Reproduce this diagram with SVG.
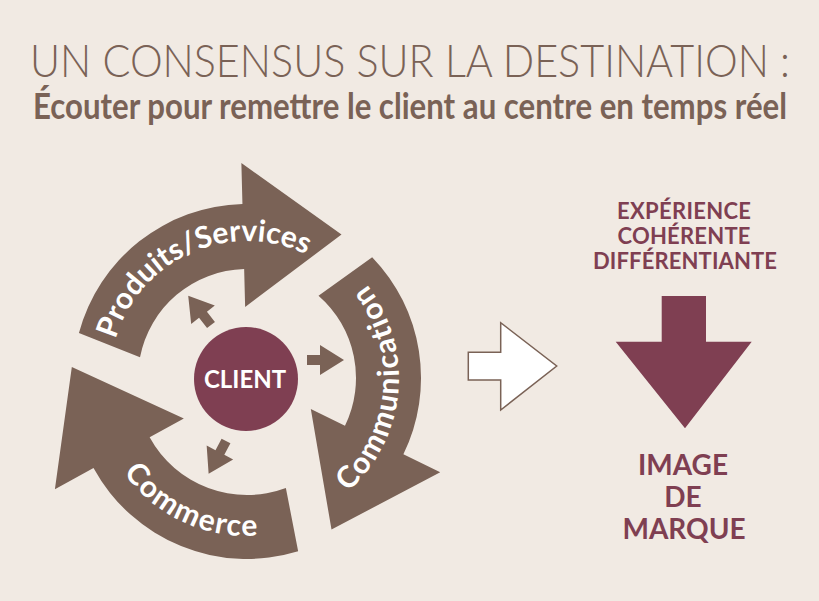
<svg xmlns="http://www.w3.org/2000/svg" width="819" height="601" viewBox="0 0 819 601">
<style>
.bg{fill:#f1eae3}
.ring{fill:#7a6256}
.lbl{font-family:Lato,"Open Sans","Liberation Sans",sans-serif;font-weight:700;fill:#ffffff;font-size:30px}
.title{font-family:Lato,"Open Sans","Liberation Sans",sans-serif;font-weight:300;fill:#7a6256;font-size:46px}
.sub{font-family:Lato,"Open Sans","Liberation Sans",sans-serif;font-weight:700;fill:#7a6256;font-size:36px}
.plum{fill:#7f3f52}
.rt{font-family:Lato,"Open Sans","Liberation Sans",sans-serif;font-weight:700;fill:#7f3f52;text-anchor:middle}
.sm{fill:#7a6256}
</style>
<defs>
<path id="small" d="M0,-5 L13,-5 L13,-15 L37,0 L13,15 L13,5 L0,5 Z"/>
<path id="pPath" d="M110.33,387.56 A137,137 0 0 1 345.55,282.83"/>
<path id="cPath" d="M298.99,520.83 A152,152 0 0 0 323,246.36"/>
<path id="kPath" d="M95.56,371.20 A152,152 0 0 0 354.48,491.48"/>
</defs>
<rect class="bg" x="0" y="0" width="819" height="601"/>

<g id="title">
<text class="title" x="30" y="77" textLength="760" lengthAdjust="spacingAndGlyphs">UN CONSENSUS SUR LA DESTINATION :</text>
<text class="sub" x="33" y="119" textLength="754" lengthAdjust="spacingAndGlyphs">Écouter pour remettre le client au centre en temps réel</text>
</g>

<g id="produits-services">
<path class="ring" d="M78.93,332.97 A174,174 0 0 1 242.44,204.06 L241.37,163.07 L341.5,234.5 L245.14,307.02 L244.15,269.04 A109,109 0 0 0 140.0,357.2 Z"/>
<text class="lbl"><textPath href="#pPath" startOffset="50%" text-anchor="middle">Produits/Services</textPath></text>
</g>

<g id="communication">
<path class="ring" d="M372.17,257.13 A174,174 0 0 1 403.39,454.28 L440.24,472.25 L331.5,529.5 L310.81,409.12 L344.97,425.78 A109,109 0 0 0 318.51,295.74 Z"/>
<text class="lbl" font-size="31" letter-spacing="1.5"><textPath href="#cPath" startOffset="50%" text-anchor="middle">Communication</textPath></text>
</g>

<g id="commerce">
<path class="ring" d="M298.16,551.35 A175,175 0 0 1 93.50,468.04 L54.90,489.17 L71.83,367.03 L183.85,418.58 L149.64,437.30 A111,111 0 0 0 285.87,487.97 Z"/>
<text class="lbl" font-size="31" letter-spacing="1.5"><textPath href="#kPath" startOffset="50%" text-anchor="middle">Commerce</textPath></text>
</g>

<g id="client">
<circle class="plum" cx="246" cy="379" r="52"/>
<text x="245" y="388" font-family="Lato,'Open Sans','Liberation Sans',sans-serif" font-weight="700" font-size="24" fill="#ffffff" text-anchor="middle">CLIENT</text>
</g>

<g id="connectors">
<use href="#small" class="sm" transform="translate(307,360)"/>
<use href="#small" class="sm" transform="translate(211,325) rotate(232)"/>
<use href="#small" class="sm" transform="translate(226,441) rotate(118)"/>
<path id="white-arrow" d="M468.3,352.3 L500.7,352.3 L500.7,322.7 L556.7,366 L500.7,410 L500.7,380 L468.3,380 Z" fill="#ffffff" stroke="#7a6256" stroke-width="1.5"/>
<path id="down-arrow" class="plum" d="M661.7,296 L706,296 L706,341.7 L751.7,341.7 L685,428.3 L615.7,341.7 L661.7,341.7 Z"/>
</g>

<g id="experience">
<text class="rt" x="684" y="219" font-size="22" textLength="134">EXPÉRIENCE</text>
<text class="rt" x="684" y="244.3" font-size="22" textLength="133">COHÉRENTE</text>
<text class="rt" x="685" y="269" font-size="22" textLength="184">DIFFÉRENTIANTE</text>
</g>

<g id="image-de-marque">
<text class="rt" x="683" y="474.5" font-size="28">IMAGE</text>
<text class="rt" x="683" y="507" font-size="28">DE</text>
<text class="rt" x="684" y="538.5" font-size="28">MARQUE</text>
</g>
</svg>
